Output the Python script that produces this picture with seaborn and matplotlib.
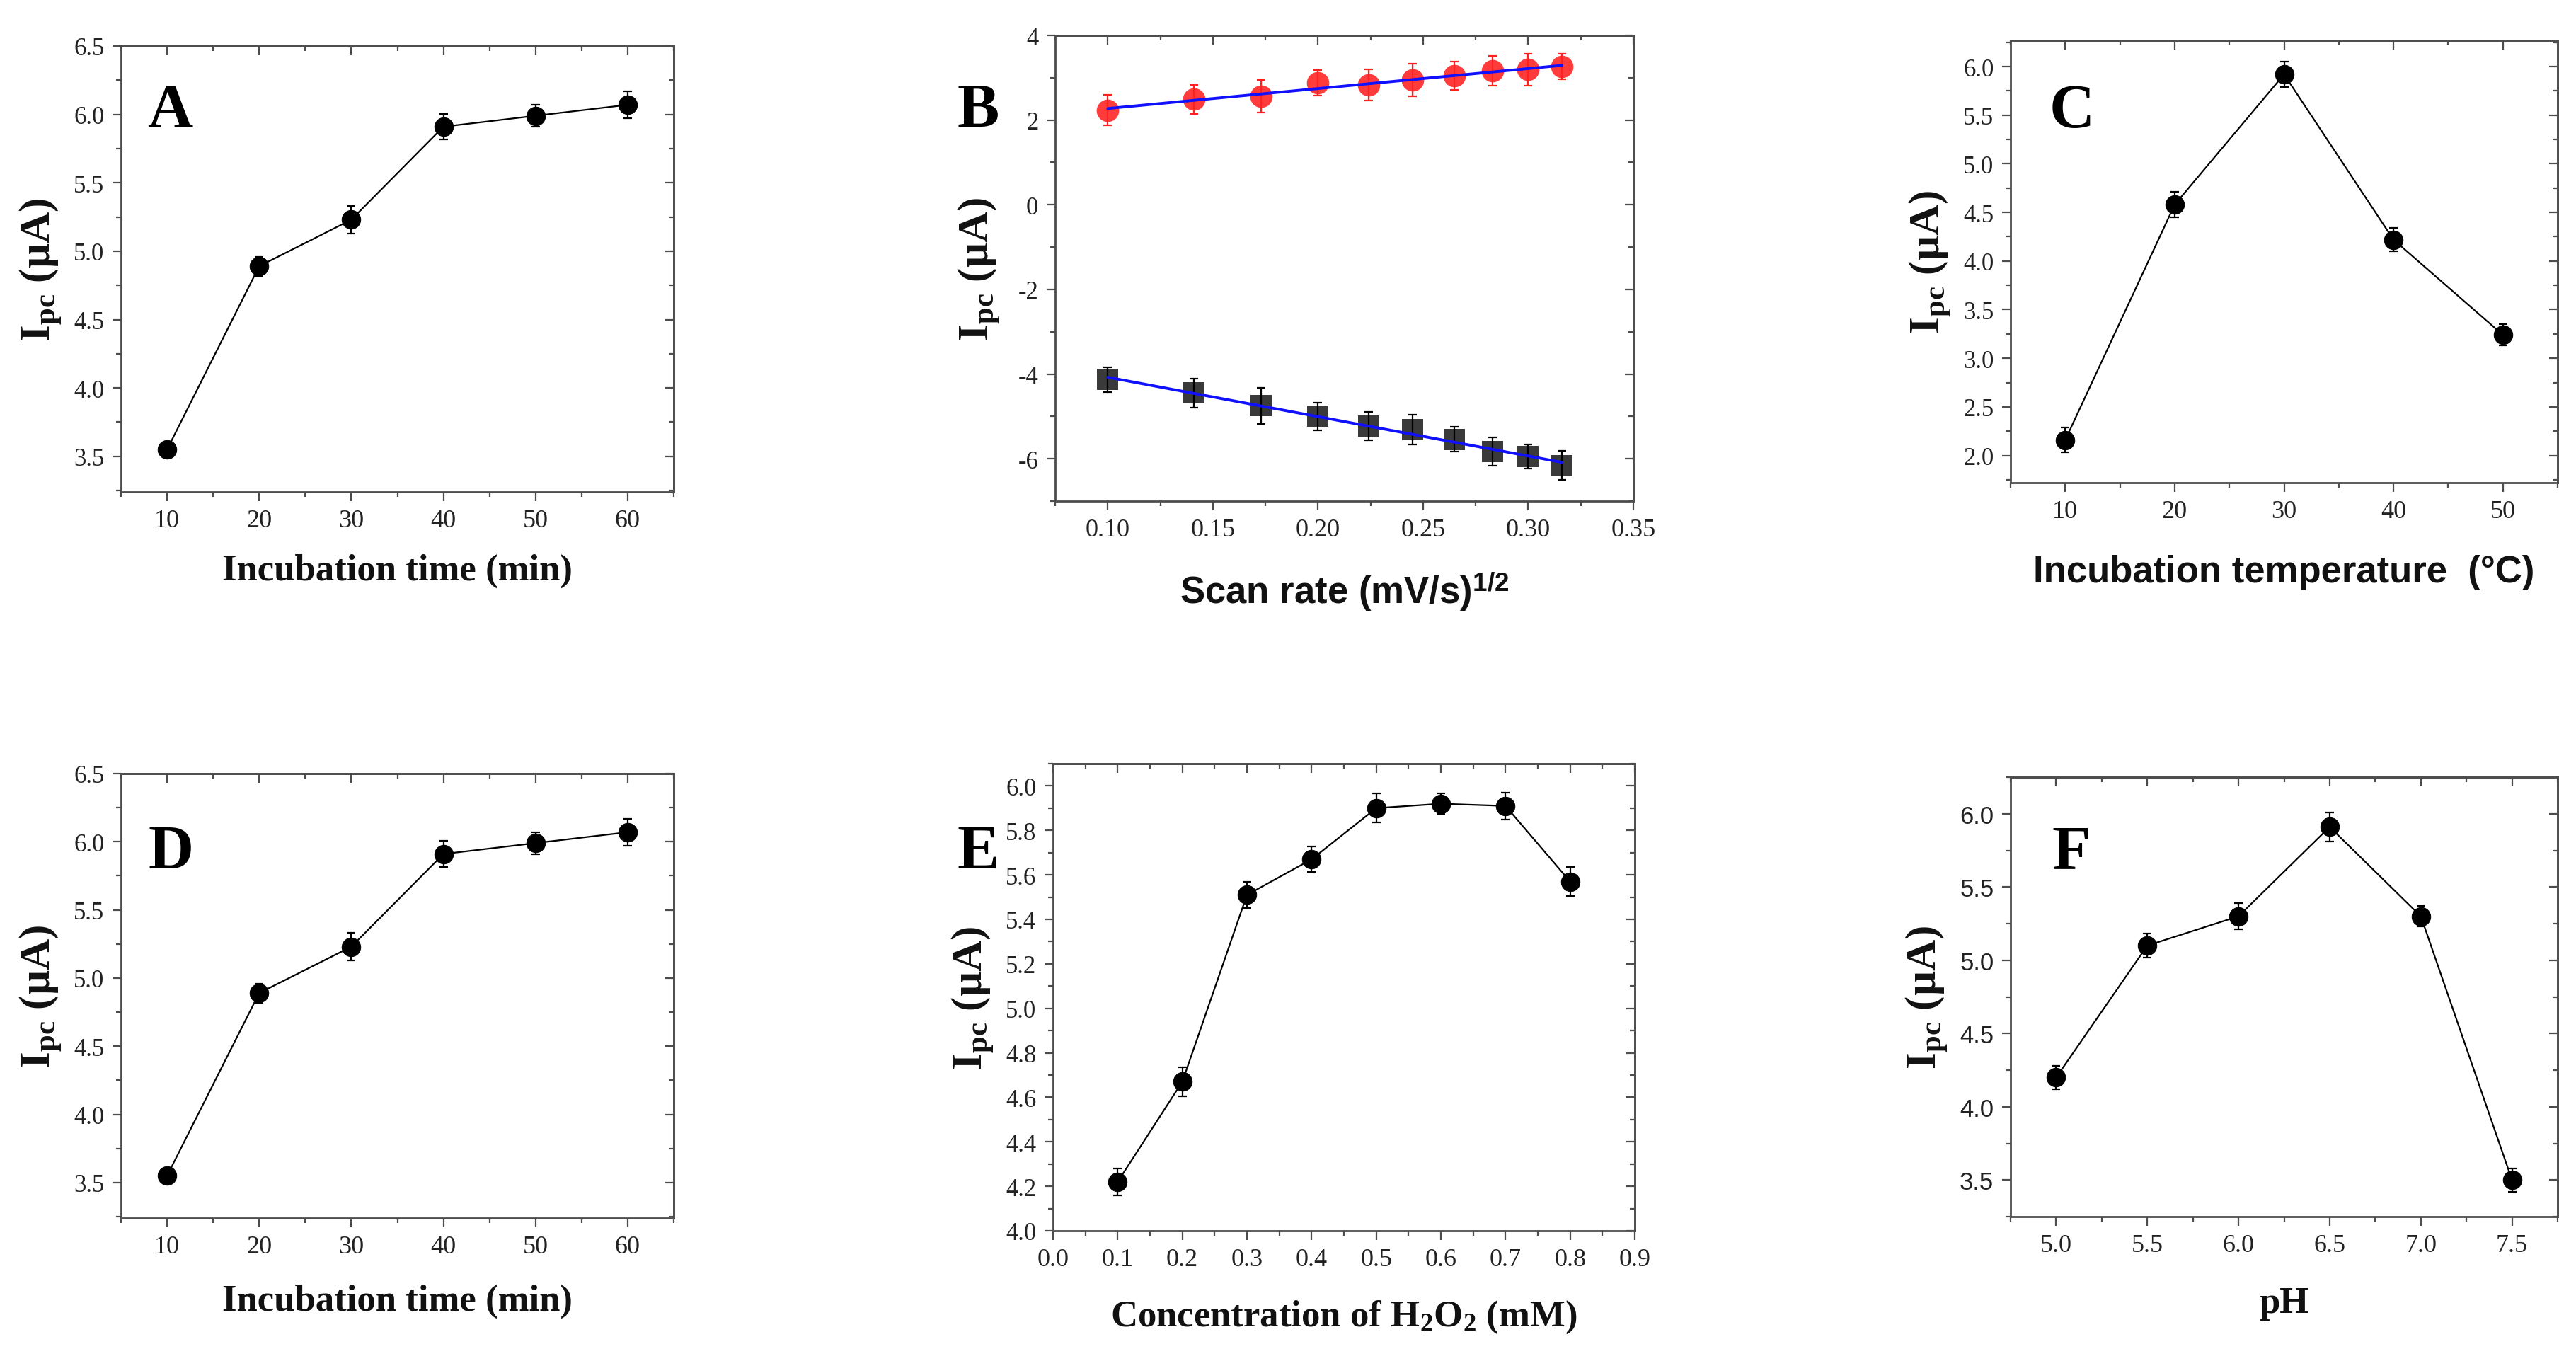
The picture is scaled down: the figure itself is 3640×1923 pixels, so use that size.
import numpy as np
import pandas as pd
import matplotlib
matplotlib.use("Agg")
import matplotlib.pyplot as plt
import seaborn as sns
from matplotlib.ticker import MultipleLocator, FormatStrFormatter, NullFormatter

# ---------------- data ----------------
time_min = [10, 20, 30, 40, 50, 60]
ipc_time = [3.55, 4.89, 5.23, 5.91, 5.99, 6.07]
err_time = [0.05, 0.07, 0.10, 0.095, 0.08, 0.10]

scan_sqrt = [0.100, 0.141, 0.173, 0.200, 0.224, 0.245, 0.265, 0.283, 0.300, 0.316]
ipa_scan = [2.23, 2.49, 2.56, 2.88, 2.83, 2.95, 3.05, 3.17, 3.19, 3.26]
ipa_err = [0.36, 0.34, 0.38, 0.30, 0.36, 0.38, 0.33, 0.35, 0.37, 0.30]
ipc_scan = [-4.13, -4.45, -4.75, -5.00, -5.23, -5.31, -5.54, -5.83, -5.95, -6.16]
ipc_err = [0.29, 0.35, 0.42, 0.32, 0.34, 0.35, 0.29, 0.34, 0.28, 0.34]

temp_c = [10, 20, 30, 40, 50]
ipc_temp = [2.16, 4.58, 5.92, 4.22, 3.24]
err_temp = [0.13, 0.13, 0.13, 0.12, 0.11]

h2o2_mM = [0.1, 0.2, 0.3, 0.4, 0.5, 0.6, 0.7, 0.8]
ipc_h2o2 = [4.22, 4.67, 5.51, 5.67, 5.90, 5.92, 5.91, 5.57]
err_h2o2 = [0.06, 0.065, 0.06, 0.057, 0.065, 0.047, 0.06, 0.065]

ph_vals = [5.0, 5.5, 6.0, 6.5, 7.0, 7.5]
ipc_ph = [4.20, 5.10, 5.30, 5.91, 5.30, 3.50]
err_ph = [0.08, 0.08, 0.09, 0.10, 0.07, 0.08]

panel_letters = ["A", "B", "C", "D", "E", "F"]

# ---------------- style ----------------
sns.set_theme(style="ticks")
SERIF = "Liberation Serif"
SANS = "Liberation Sans"
SPINE = "#4d4d4d"
plt.rcParams.update({
    "font.family": [SERIF, "DejaVu Serif"],
    "mathtext.fontset": "custom",
    "mathtext.rm": SERIF,
    "mathtext.bf": SERIF + ":bold",
    "mathtext.it": SERIF + ":italic",
    "mathtext.sf": SANS + ":bold",
    "axes.unicode_minus": False,
    "axes.linewidth": 2.0,
    "axes.edgecolor": SPINE,
})

W, H = 3640, 1924
fig = plt.figure(figsize=(W / 100, H / 100), dpi=100)


def add_ax(l, t, r, b):
    return fig.add_axes([l / W, 1 - b / H, (r - l) / W, (b - t) / H])


YLABEL = r"$\mathbf{I_{pc}}$ (µA)"


def style_axes(ax, xlim, ylim, xmaj, xmin, ymaj, ymin, xfmt, yfmt,
               yfamily=SERIF, ytick_size=25):
    ax.set_xlim(xlim)
    ax.set_ylim(ylim)
    ax.xaxis.set_major_locator(MultipleLocator(xmaj))
    ax.xaxis.set_minor_locator(MultipleLocator(xmin))
    ax.yaxis.set_major_locator(MultipleLocator(ymaj))
    ax.yaxis.set_minor_locator(MultipleLocator(ymin))
    ax.xaxis.set_major_formatter(FormatStrFormatter(xfmt))
    ax.yaxis.set_major_formatter(FormatStrFormatter(yfmt))
    ax.tick_params(which="both", direction="out", width=1.6, color=SPINE,
                   top=False, right=False, labelcolor="#222222")
    ax.tick_params(which="major", length=9, pad=8)
    ax.tick_params(which="minor", length=5)
    ax.tick_params(axis="x", labelsize=26)
    ax.tick_params(axis="y", labelsize=ytick_size)
    for lab in ax.get_xticklabels():
        lab.set_family(SERIF)
    for lab in ax.get_yticklabels():
        lab.set_family(yfamily)
    for sp in ax.spines.values():
        sp.set_color(SPINE)
        sp.set_linewidth(2.0)
    secx = ax.secondary_xaxis("top")
    secx.xaxis.set_major_locator(MultipleLocator(xmaj))
    secx.xaxis.set_minor_locator(MultipleLocator(xmin))
    secx.xaxis.set_major_formatter(NullFormatter())
    secx.tick_params(which="both", direction="in", width=1.6, color=SPINE)
    secx.tick_params(which="major", length=9)
    secx.tick_params(which="minor", length=5)
    secx.spines["top"].set_color(SPINE)
    secx.spines["top"].set_linewidth(2.0)
    secy = ax.secondary_yaxis("right")
    secy.yaxis.set_major_locator(MultipleLocator(ymaj))
    secy.yaxis.set_minor_locator(MultipleLocator(ymin))
    secy.yaxis.set_major_formatter(NullFormatter())
    secy.tick_params(which="both", direction="in", width=1.6, color=SPINE)
    secy.tick_params(which="major", length=9)
    secy.tick_params(which="minor", length=5)
    secy.spines["right"].set_color(SPINE)
    secy.spines["right"].set_linewidth(2.0)


def line_panel(ax, x, y, e):
    df = pd.DataFrame({"x": x, "y": y})
    sns.lineplot(data=df, x="x", y="y", ax=ax, color="black", lw=1.6,
                 marker="o", markersize=19, markeredgecolor="black",
                 markerfacecolor="black", errorbar=None, zorder=3)
    ax.errorbar(x, y, yerr=e, fmt="none", ecolor="black", elinewidth=1.6,
                capsize=4.5, capthick=1.6, zorder=4)


def letter(ax, s, x, y):
    ax.text(x, y, s, transform=ax.transAxes, fontsize=64, fontweight="bold",
            family=SERIF, ha="left", va="baseline", color="black")


def set_labels(ax, xlabel, xfamily, ylabel_pad, xlabel_pad):
    ax.set_xlabel(xlabel, fontsize=38, fontweight="bold", family=xfamily,
                  labelpad=xlabel_pad, color="#111111")
    ax.set_ylabel(YLABEL, fontsize=44, fontweight="bold", family=SERIF,
                  labelpad=ylabel_pad, color="#111111")


# ---------------- Panel A ----------------
axA = add_ax(171, 66, 952, 696)
line_panel(axA, time_min, ipc_time, err_time)
style_axes(axA, (5, 65), (3.24, 6.5), 10, 5, 0.5, 0.25, "%d", "%.1f")
set_labels(axA, "Incubation time (min)", SERIF, 10, 22)
letter(axA, panel_letters[0], 0.047, 0.82)

# ---------------- Panel B ----------------
axB = add_ax(1491, 51, 2308, 709)
dfa = pd.DataFrame({"x": scan_sqrt, "y": ipa_scan})
dfc = pd.DataFrame({"x": scan_sqrt, "y": ipc_scan})
sns.scatterplot(data=dfa, x="x", y="y", ax=axB, color="#ff3b3b", s=520,
                marker="o", edgecolor="#ff3b3b", linewidth=0, zorder=3)
axB.errorbar(scan_sqrt, ipa_scan, yerr=ipa_err, fmt="none", ecolor="#ff2020",
             elinewidth=1.6, capsize=4.5, capthick=1.6, zorder=4)
sns.scatterplot(data=dfc, x="x", y="y", ax=axB, color="#3a3a3a", s=480,
                marker="s", edgecolor="#3a3a3a", linewidth=0, zorder=3)
axB.errorbar(scan_sqrt, ipc_scan, yerr=ipc_err, fmt="none", ecolor="black",
             elinewidth=1.6, capsize=4.5, capthick=1.6, zorder=4)
sns.regplot(data=dfa, x="x", y="y", ax=axB, scatter=False, ci=None,
            truncate=True, line_kws=dict(color="#1010ff", lw=2.8, zorder=5))
sns.regplot(data=dfc, x="x", y="y", ax=axB, scatter=False, ci=None,
            truncate=True, line_kws=dict(color="#1010ff", lw=2.8, zorder=5))
style_axes(axB, (0.075, 0.35), (-7, 4), 0.05, 0.025, 2, 1, "%.2f", "%d")
set_labels(axB, r"Scan rate (mV/s)$^{\mathsf{1/2}}$", SANS, 16, 30)
letter(axB, panel_letters[1], -0.17, 0.806)

# ---------------- Panel C ----------------
axC = add_ax(2841, 58, 3614, 683)
line_panel(axC, temp_c, ipc_temp, err_temp)
style_axes(axC, (5, 55), (1.72, 6.27), 10, 5, 0.5, 0.25, "%d", "%.1f")
set_labels(axC, "Incubation temperature  (°C)", SANS, 10, 32)
letter(axC, panel_letters[2], 0.071, 0.805)

# ---------------- Panel D ----------------
axD = add_ax(171, 1094, 952, 1722)
line_panel(axD, time_min, ipc_time, err_time)
style_axes(axD, (5, 65), (3.24, 6.5), 10, 5, 0.5, 0.25, "%d", "%.1f")
set_labels(axD, "Incubation time (min)", SERIF, 10, 26)
letter(axD, panel_letters[3], 0.049, 0.789)

# ---------------- Panel E ----------------
axE = add_ax(1488, 1080, 2310, 1740)
line_panel(axE, h2o2_mM, ipc_h2o2, err_h2o2)
style_axes(axE, (0.0, 0.9), (4.0, 6.1), 0.1, 0.05, 0.2, 0.1, "%.1f", "%.1f")
set_labels(axE, r"Concentration of H$_\mathbf{2}$O$_\mathbf{2}$ (mM)", SERIF, 10, 28)
letter(axE, panel_letters[4], -0.165, 0.777)

# ---------------- Panel F ----------------
axF = add_ax(2841, 1099, 3614, 1720)
line_panel(axF, ph_vals, ipc_ph, err_ph)
style_axes(axF, (4.75, 7.75), (3.25, 6.25), 0.5, 0.25, 0.5, 0.25, "%.1f", "%.1f",
           yfamily=SANS, ytick_size=25)
set_labels(axF, "pH", SERIF, 10, 30)
letter(axF, panel_letters[5], 0.075, 0.794)

fig.savefig("out.png", dpi=100, facecolor="white")
